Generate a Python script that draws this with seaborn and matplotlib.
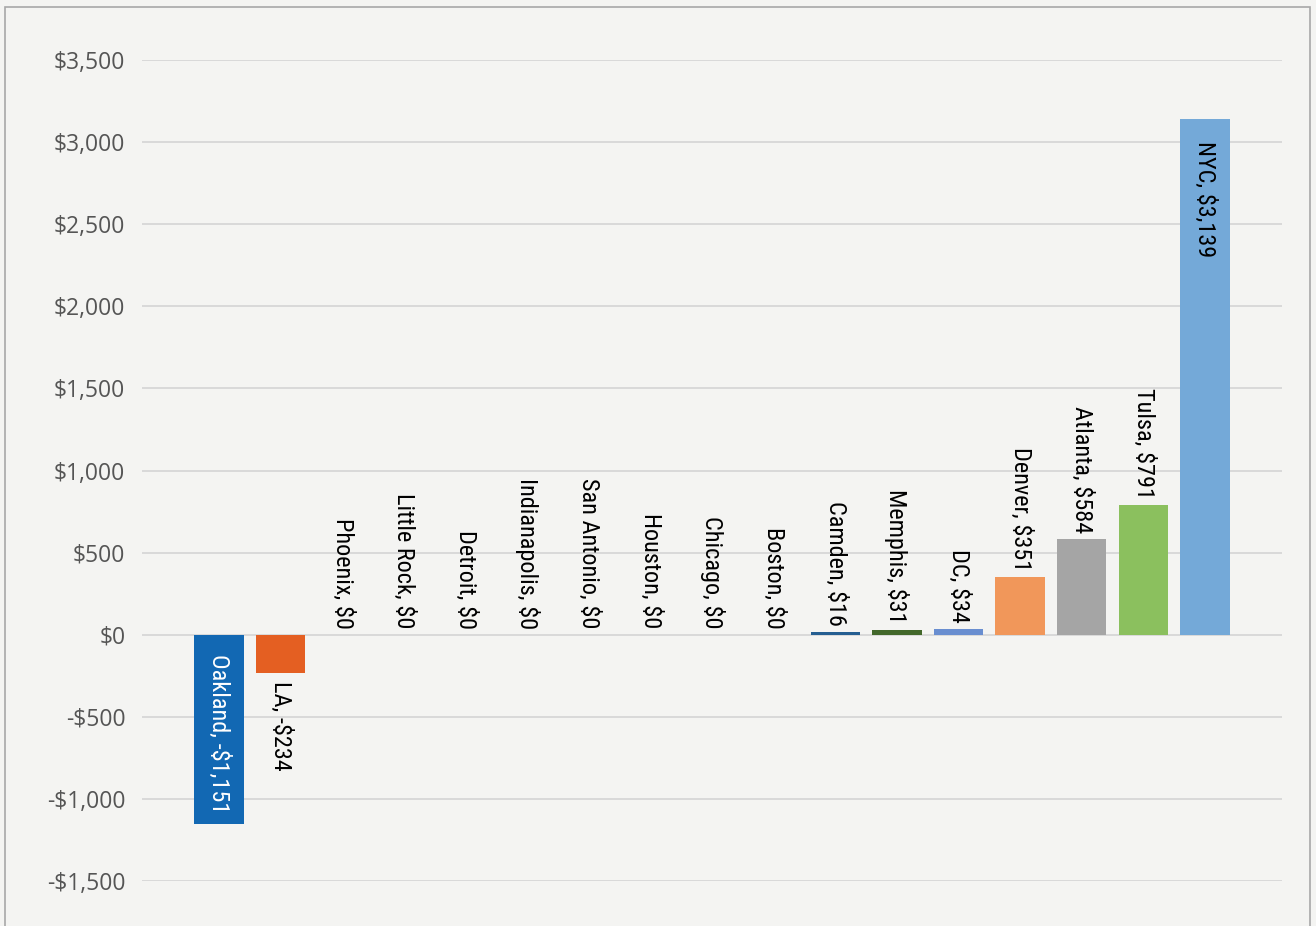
import matplotlib
matplotlib.use("Agg")
import matplotlib.pyplot as plt
import matplotlib.patches as mpatches
import matplotlib.transforms as mtransforms
from matplotlib import font_manager
import seaborn as sns
import pandas as pd

cities = ["Oakland", "LA", "Phoenix", "Little Rock", "Detroit", "Indianapolis",
          "San Antonio", "Houston", "Chicago", "Boston", "Camden", "Memphis",
          "DC", "Denver", "Atlanta", "Tulsa", "NYC"]
values = [-1151, -234, 0, 0, 0, 0, 0, 0, 0, 0, 16, 31, 34, 351, 584, 791, 3139]
colors = ["#1268B3", "#E45F22", "#1268B3", "#1268B3", "#1268B3", "#1268B3",
          "#1268B3", "#1268B3", "#1268B3", "#1268B3", "#255E91", "#43682B",
          "#698ED0", "#F1975A", "#A5A5A5", "#8BC05E", "#74A9D8"]
inside_labels = ["Oakland", "NYC"]
yticks = [-1500, -1000, -500, 0, 500, 1000, 1500, 2000, 2500, 3000, 3500]

def money(v):
    s = f"${abs(v):,}"
    return "-" + s if v < 0 else s

available = {f.name for f in font_manager.fontManager.ttflist}
label_font = "DejaVu Sans"
for cand in ["Liberation Sans Narrow", "Roboto Condensed", "Open Sans Condensed", "Roboto"]:
    if cand in available:
        label_font = cand
        break
tick_font = "Open Sans" if "Open Sans" in available else "DejaVu Sans"
LFS = 17.5

sns.set_theme(style="white")
bg = "#F4F4F2"
fig = plt.figure(figsize=(13.16, 9.26), dpi=100, facecolor=bg)
ax = fig.add_axes([0.1079, 0.0486, 0.9742 - 0.1079, 0.9352 - 0.0486])
ax.set_facecolor(bg)

df = pd.DataFrame({"city": cities, "value": values})
sns.barplot(data=df, x="city", y="value", hue="city", palette=colors,
            order=cities, hue_order=cities, width=0.8, saturation=1,
            legend=False, ax=ax, zorder=3, linewidth=0, edgecolor="none")

ax.set_xlim(-1.25, len(cities) - 1 + 1.25)
ax.set_ylim(-1500, 3500)
ax.set_yticks(yticks)
ax.set_yticklabels([money(v) for v in yticks], fontsize=16.5, color="#555555",
                   family=tick_font)
ax.tick_params(axis="y", length=0, pad=12)
ax.set_xticks([])
ax.set_xlabel("")
ax.set_ylabel("")
for s in ax.spines.values():
    s.set_visible(False)
ax.yaxis.grid(True, color="#D2D2D2", linewidth=1.1, zorder=0)
ax.set_axisbelow(True)

for i, (c, v) in enumerate(zip(cities, values)):
    txt = f"{c}, {money(v)}"
    if c in inside_labels:
        if v > 0:
            off = mtransforms.offset_copy(ax.transData, fig=fig, x=0, y=-22, units="dots")
            ax.text(i, v, txt, rotation=270, ha="center", va="top", transform=off,
                    fontsize=LFS, family=label_font, color="black", zorder=5)
        else:
            off = mtransforms.offset_copy(ax.transData, fig=fig, x=0, y=-19, units="dots")
            ax.text(i, 0, txt, rotation=270, ha="center", va="top", transform=off,
                    fontsize=LFS, family=label_font, color="white", zorder=5)
    elif v >= 0:
        off = mtransforms.offset_copy(ax.transData, fig=fig, x=0, y=6, units="dots")
        ax.text(i, v, txt, rotation=270, ha="center", va="bottom", transform=off,
                fontsize=LFS, family=label_font, color="black", zorder=5)
    else:
        off = mtransforms.offset_copy(ax.transData, fig=fig, x=0, y=-8, units="dots")
        ax.text(i, v, txt, rotation=270, ha="center", va="top", transform=off,
                fontsize=LFS, family=label_font, color="black", zorder=5)

frame = mpatches.Rectangle((5 / 1316, -0.01), (1310 - 5) / 1316, (926 - 7) / 926 + 0.01,
                           transform=fig.transFigure, fill=False,
                           edgecolor="#A8A8A8", linewidth=1.2)
fig.patches.append(frame)

fig.savefig("out.png", dpi=100, facecolor=bg)
